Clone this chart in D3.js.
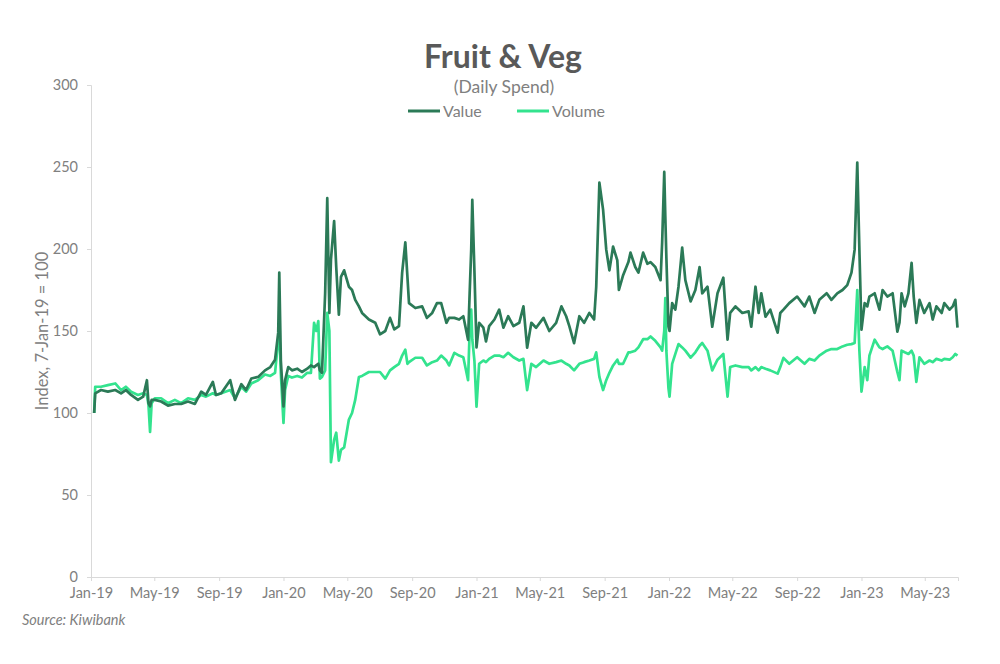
<!DOCTYPE html>
<html>
<head>
<meta charset="utf-8">
<script src="https://cdn.jsdelivr.net/npm/d3@7"></script>
<style>
  html, body { margin: 0; padding: 0; background: #ffffff; }
  svg { display: block; font-family: "Lato", "Noto Sans", sans-serif; }
</style>
</head>
<body>
<svg id="chart" width="1000" height="664"></svg>
<script>
// ---------- data ----------
const title = "Fruit & Veg";
const subtitle = "(Daily Spend)";
const seriesNames = ["Value", "Volume"];
const yAxisTitle = "Index, 7-Jan-19 = 100";
const sourceText = "Kiwibank";
const yTicks = [0, 50, 100, 150, 200, 250, 300];
const xTickDates = ["2019-01-01","2019-05-01","2019-09-01","2020-01-01","2020-05-01","2020-09-01",
  "2021-01-01","2021-05-01","2021-09-01","2022-01-01","2022-05-01","2022-09-01","2023-01-01","2023-05-01"];

const dates = [
"2019-01-07","2019-01-09","2019-01-20","2019-02-02","2019-02-16","2019-02-27","2019-03-08","2019-03-18","2019-03-31","2019-04-10",
"2019-04-17","2019-04-20","2019-04-23","2019-04-26","2019-05-02","2019-05-14","2019-05-27","2019-06-09","2019-06-21","2019-07-04",
"2019-07-17","2019-07-29","2019-08-07","2019-08-20","2019-08-26","2019-09-05","2019-09-22","2019-10-01","2019-10-13","2019-10-22",
"2019-11-01","2019-11-14","2019-11-27","2019-12-07","2019-12-16","2019-12-22","2019-12-24","2019-12-27","2020-01-01","2020-01-04",
"2020-01-10","2020-01-17","2020-01-27","2020-02-05","2020-02-15","2020-02-22","2020-02-28","2020-03-03","2020-03-07","2020-03-10",
"2020-03-14","2020-03-20","2020-03-24","2020-03-28","2020-03-31","2020-04-06","2020-04-10","2020-04-15","2020-04-19","2020-04-25",
"2020-05-04","2020-05-10","2020-05-16","2020-05-23","2020-05-29","2020-06-11","2020-06-23","2020-07-02","2020-07-12","2020-07-21",
"2020-07-29","2020-08-07","2020-08-13","2020-08-19","2020-08-23","2020-08-26","2020-09-07","2020-09-20","2020-09-29","2020-10-09",
"2020-10-18","2020-10-26","2020-11-05","2020-11-10","2020-11-20","2020-11-29","2020-12-07","2020-12-16","2020-12-19","2020-12-22",
"2020-12-24","2020-12-28","2021-01-01","2021-01-06","2021-01-14","2021-01-19","2021-01-25","2021-02-04","2021-02-13","2021-02-21",
"2021-03-02","2021-03-12","2021-03-23","2021-03-31","2021-04-07","2021-04-15","2021-04-24","2021-05-08","2021-05-19","2021-06-01",
"2021-06-11","2021-06-20","2021-06-26","2021-07-05","2021-07-15","2021-07-24","2021-08-03","2021-08-12","2021-08-16","2021-08-22",
"2021-08-29","2021-09-04","2021-09-10","2021-09-17","2021-09-25","2021-09-28","2021-10-06","2021-10-16","2021-10-20","2021-10-29",
"2021-11-04","2021-11-13","2021-11-21","2021-11-27","2021-12-06","2021-12-16","2021-12-19","2021-12-23","2021-12-25","2021-12-27",
"2021-12-31","2022-01-02","2022-01-07","2022-01-13","2022-01-19","2022-01-26","2022-02-01","2022-02-11","2022-02-20","2022-02-28",
"2022-03-05","2022-03-15","2022-03-24","2022-04-03","2022-04-14","2022-04-22","2022-04-27","2022-05-07","2022-05-20","2022-06-01",
"2022-06-06","2022-06-14","2022-06-20","2022-06-25","2022-07-03","2022-07-12","2022-07-26","2022-07-31","2022-08-06","2022-08-17",
"2022-09-01","2022-09-15","2022-09-24","2022-10-04","2022-10-13","2022-10-27","2022-11-05","2022-11-16","2022-11-26","2022-12-05",
"2022-12-13","2022-12-19","2022-12-24","2022-12-28","2023-01-01","2023-01-07","2023-01-12","2023-01-16","2023-01-26","2023-02-04",
"2023-02-10","2023-02-19","2023-03-01","2023-03-10","2023-03-14","2023-03-18","2023-03-24","2023-03-31","2023-04-06","2023-04-10",
"2023-04-15","2023-04-21","2023-04-30","2023-05-10","2023-05-16","2023-05-23","2023-06-02","2023-06-07","2023-06-17","2023-06-23",
"2023-06-28","2023-07-02"
];

const valueSeries = [
100,112,114,113,114,112,114,111,108,110,
120,106,104,108,108,107,104.5,105.5,105.5,107,
105.5,113,111,119,111,112,120,108,117.6,114,
121,122,126,128,132.5,149,185.6,132,104,120,
128,126,127,125,127,129,128,129,130,126,
124.5,173,231,161,193.5,217,189,160,183,187,
177,175,169,165,161,157,155,148,150,158,
151,153,185.6,204,183,167,164,165,158,161,
167,167,155,158,158,157,159,144.6,173,200,
230,187,140,155,152,143.6,153,157,163,152,
159,153,155,165,139.8,155,152,158,150,155,
165,159,153,142.6,159,155,161,157,177,240.5,
224,199.6,187,201.5,193,175,184,192,197.8,189,
185.6,197.8,191,192,189,181,204,247,220,195,
152.6,150,167,163,177,200.8,181,168,175,189,
173,177,152.6,173,182.5,144.7,161,165,161,162,
152.6,177,161,173,158.7,163,149,161,163,167,
171,165,171,161,169,173,169,173,175,178,
185.6,199.6,252.7,199.6,150.8,167,165,171,173,163,
175,171,173,149.6,155,173,165,173,191.6,171,
155,169,161,167,157,165,161,167,163,165,
169,152
];

const volumeSeries = [
100,116,116,117,118,114,116,113,111,112,
111,105,88.5,106,109,109,106,108,106,109,
108,111,110,112,111,112,114,109,116,113,
118,120,123.5,122.6,124.5,144.7,151,124,94,114,
122.6,121.6,122.6,121.6,124.5,124.5,155,150,156,121,
122,126,161,150,70,83.6,88,71,77.5,79,
96,100,108,122,122.6,125,125,125,121,126,
128,130,135,138.6,130,131,133.7,133.7,129,131,
132,135,132,129,136.7,135,134,120,150,163,
145,132,103.8,130,132,131,133,135,135,134,
136.7,134,132,133,114,130,128,132,130,131,
132,130,129,126,130,131,132,133,137,122,
114,120,124.5,129,132.5,130,130,137,137,138,
140,145,145,146.7,144,140,138,150,170,138,
115,110,130,136,142,140,138,133.8,137,141,
142.7,138,126,132.5,136,110,128,129,128,128,
126,128,126,128,127,126,124,128,133.6,130,
134,130,133,132,135,138,139,139,140.6,141.6,
142,142.7,175,138,113,128,120,135,144.7,140,
139,140.6,138,125,120,138,137,136,138,135,
119,134,130,132,131,133,132,133,132.5,134,
136,135
];

// ---------- layout ----------
const svg = d3.select("#chart");
const margin = { left: 91, right: 958, top: 85, bottom: 577 };
const parse = d3.timeParse("%Y-%m-%d");

const x = d3.scaleTime()
  .domain([parse("2019-01-01"), parse("2023-07-03")])
  .range([margin.left, margin.right]);
const y = d3.scaleLinear().domain([0, 300]).range([margin.bottom, margin.top]);

const textGrey = "#808080";
const axisGrey = "#d9d9d9";
const colors = ["#2b7a57", "#33e38e"];

// title
svg.append("text").attr("x", 503).attr("y", 68).attr("text-anchor", "middle")
  .attr("font-size", 32).attr("font-weight", 700).attr("fill", "#595959").text(title);
svg.append("text").attr("x", 504).attr("y", 93).attr("text-anchor", "middle")
  .attr("font-size", 17.5).attr("fill", textGrey).text(subtitle);

// legend
const legendItems = [{ x: 408, name: seriesNames[0], c: colors[0] }, { x: 517, name: seriesNames[1], c: colors[1] }];
legendItems.forEach(d => {
  svg.append("line").attr("x1", d.x).attr("x2", d.x + 32).attr("y1", 111).attr("y2", 111)
    .attr("stroke", d.c).attr("stroke-width", 3);
  svg.append("text").attr("x", d.x + 35).attr("y", 116.5).attr("font-size", 16)
    .attr("fill", textGrey).text(d.name);
});

// axes
const yAxis = d3.axisLeft(y).tickValues(yTicks).tickSize(4).tickPadding(9);
const gy = svg.append("g").attr("transform", `translate(${margin.left},0)`).call(yAxis);
gy.select(".domain").attr("stroke", axisGrey);
gy.selectAll(".tick line").attr("stroke", axisGrey);
gy.selectAll(".tick text").attr("fill", textGrey).attr("font-size", 14.5)
  .attr("font-family", "Lato, 'Noto Sans', sans-serif");

const xAxis = d3.axisBottom(x).tickValues(xTickDates.map(parse))
  .tickFormat(d3.timeFormat("%b-%y")).tickSize(4).tickPadding(7);
const gx = svg.append("g").attr("transform", `translate(0,${margin.bottom})`).call(xAxis);
gx.select(".domain").attr("stroke", axisGrey);
gx.selectAll(".tick line").attr("stroke", axisGrey);
gx.selectAll(".tick text").attr("fill", textGrey).attr("font-size", 14.5)
  .attr("font-family", "Lato, 'Noto Sans', sans-serif");

// y axis title
svg.append("text").attr("transform", "translate(48,331) rotate(-90)")
  .attr("text-anchor", "middle").attr("font-size", 16.5).attr("fill", textGrey).text(yAxisTitle);

// source
svg.append("text").attr("x", 22).attr("y", 625).attr("font-size", 14.5).attr("fill", textGrey)
  .attr("font-style", "italic").text("Source: " + sourceText);

// lines
const pts = dates.map(parse);
const line = d3.line().x((d, i) => x(pts[i])).y(d => y(d)).curve(d3.curveLinear);
[volumeSeries, valueSeries].forEach((s, k) => {
  svg.append("path").datum(s).attr("d", line).attr("fill", "none")
    .attr("stroke", k === 0 ? colors[1] : colors[0]).attr("stroke-width", 2.7)
    .attr("stroke-linejoin", "round");
});
</script>
</body>
</html>
